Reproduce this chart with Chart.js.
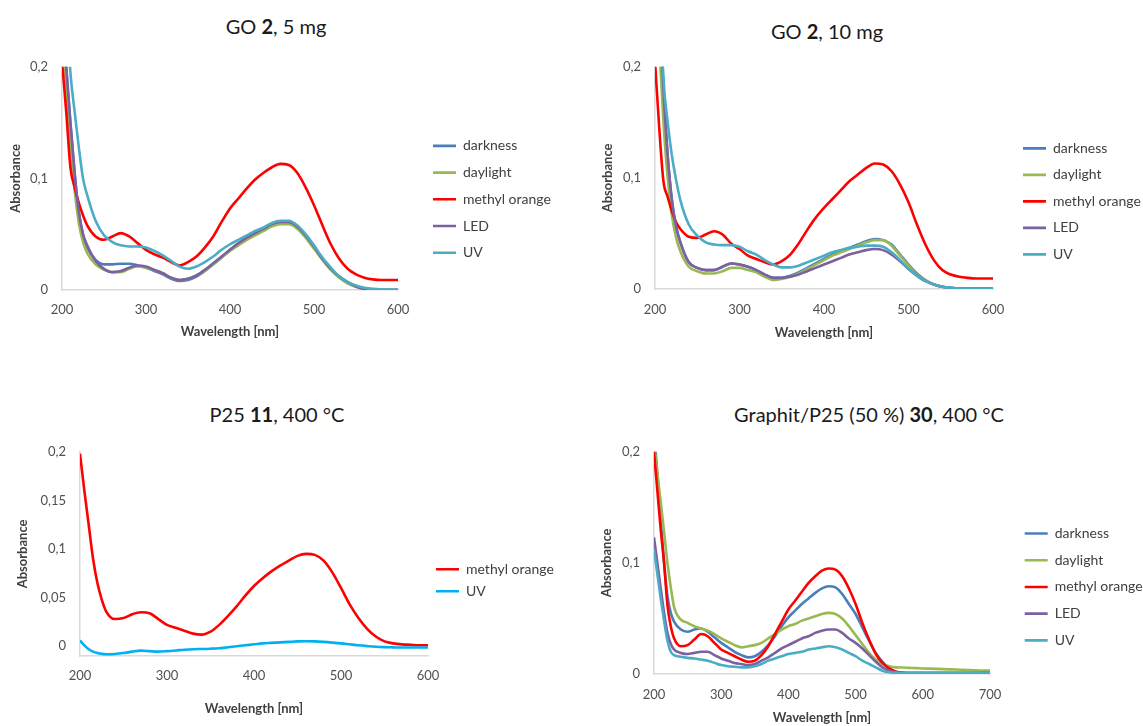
<!DOCTYPE html>
<html lang="en">
<head>
  <meta charset="UTF-8" />
  <title>UV-Vis spectra</title>
  <script src="https://cdn.jsdelivr.net/npm/chart.js"></script>
  <style>
    body { margin: 0; background: #fff; font-family: Lato, sans-serif; }
    #page { position: relative; width: 1143px; height: 726px; overflow: hidden; }
    .panel { position: absolute; }
    .titulo { position: absolute; transform: translate(-50%, -50%); white-space: nowrap;
              font-size: 20px; color: #1a1a1a; }
  </style>
</head>
<body>
<div id="page">
  <div class="titulo" style="left:276px;top:26px">GO <b>2</b>, 5 mg</div>
  <div class="titulo" style="left:827px;top:31px">GO <b>2</b>, 10 mg</div>
  <div class="titulo" style="left:277px;top:414px">P25 <b>11</b>, 400 °C</div>
  <div class="titulo" style="left:869px;top:414px">Graphit/P25 (50 %) <b>30</b>, 400 °C</div>

  <div class="panel" style="left:0;top:45px;width:575px;height:300px"><canvas id="go5"></canvas></div>
  <div class="panel" style="left:575px;top:45px;width:568px;height:300px"><canvas id="go10"></canvas></div>
  <div class="panel" style="left:0;top:430px;width:575px;height:290px"><canvas id="p25"></canvas></div>
  <div class="panel" style="left:575px;top:430px;width:568px;height:296px"><canvas id="gp"></canvas></div>
</div>

<script>
  // wavelengths [nm]
  const wl = [200,205,210,215,220,225,230,
    240,250,260,270,280,290,300,310,320,330,
    340,350,360,370,380,390,400,410,420,430,
    440,450,460,470,480,490,500,510,520,530,
    540,550,560,570,580,590,600];
  const wlWide = [200,205,210,215,220,225,230,
    240,250,260,270,280,290,300,310,320,330,
    340,350,360,370,380,390,400,410,420,430,
    440,450,460,470,480,490,500,510,520,530,
    540,550,560,570,580,590,600,610,620,630,
    640,650,660,670,680,690,700];

  const xTicks = [200, 300, 400, 500, 600];
  const xTicksWide = [200, 300, 400, 500, 600, 700];
  const yTicks = [0, 0.1, 0.2];
  const yTicksP25 = [0, 0.05, 0.1, 0.15, 0.2];
  const seriesNames = ["darkness", "daylight", "methyl orange", "LED", "UV"];

  // GO 2, 5 mg
  const go5Darkness = [0.26,0.20,0.15,0.105,0.070,0.050,0.038,
    0.027,0.023,0.023,0.0235,0.0235,0.022,0.020,0.017,0.014,0.010,
    0.008,0.009,0.012,0.017,0.023,0.029,0.036,0.041,0.046,0.050,
    0.054,0.058,0.061,0.061,0.057,0.049,0.039,0.028,0.019,0.012,
    0.007,0.003,0.001,0.0003,0,0,0];
  const go5Daylight = [0.24,0.18,0.13,0.09,0.060,0.043,0.033,
    0.023,0.018,0.016,0.016,0.019,0.021,0.020,0.018,0.015,0.011,
    0.009,0.010,0.013,0.017,0.023,0.029,0.035,0.040,0.045,0.049,
    0.053,0.057,0.059,0.059,0.055,0.047,0.037,0.027,0.018,0.011,
    0.006,0.003,0.001,0.0005,0,0,0];
  const go5MO = [0.205,0.16,0.11,0.092,0.078,0.067,0.058,
    0.048,0.045,0.048,0.051,0.048,0.042,0.036,0.032,0.029,0.025,
    0.022,0.025,0.030,0.038,0.048,0.061,0.073,0.082,0.091,0.099,
    0.105,0.110,0.113,0.112,0.105,0.092,0.076,0.058,0.041,0.028,
    0.019,0.014,0.011,0.0095,0.009,0.009,0.009];
  const go5LED = [0.26,0.20,0.15,0.105,0.070,0.050,0.040,
    0.026,0.019,0.016,0.017,0.020,0.022,0.021,0.018,0.015,0.011,
    0.009,0.010,0.013,0.018,0.024,0.030,0.036,0.042,0.047,0.051,
    0.055,0.059,0.061,0.061,0.057,0.049,0.039,0.028,0.019,0.012,
    0.007,0.003,0.001,0.0003,0,0,0];
  const go5UV = [0.33,0.26,0.195,0.16,0.128,0.100,0.085,
    0.062,0.049,0.043,0.040,0.039,0.039,0.038,0.035,0.031,0.026,
    0.021,0.019,0.021,0.025,0.030,0.036,0.041,0.045,0.049,0.053,
    0.056,0.060,0.062,0.062,0.058,0.050,0.040,0.029,0.020,0.012,
    0.007,0.004,0.002,0.001,0.0005,0.0003,0.0003];

  // GO 2, 10 mg
  const go10Darkness = [0.35,0.26,0.18,0.12,0.080,0.056,0.042,
    0.024,0.019,0.017,0.017,0.020,0.023,0.022,0.020,0.017,0.013,
    0.010,0.010,0.012,0.015,0.019,0.023,0.027,0.031,0.034,0.037,
    0.040,0.043,0.045,0.044,0.040,0.031,0.022,0.014,0.008,0.004,
    0.002,0.001,0.0003,0.0003,0.0003,0.0003,0.0003];
  const go10Daylight = [0.30,0.22,0.15,0.10,0.066,0.046,0.034,
    0.020,0.016,0.014,0.014,0.016,0.019,0.019,0.017,0.015,0.011,
    0.008,0.009,0.011,0.014,0.018,0.022,0.026,0.030,0.033,0.036,
    0.039,0.042,0.044,0.044,0.039,0.030,0.021,0.013,0.008,0.004,
    0.002,0.001,0.0003,0.0003,0.0003,0.0003,0.0003];
  const go10MO = [0.205,0.145,0.097,0.083,0.070,0.060,0.054,
    0.047,0.046,0.049,0.052,0.049,0.041,0.036,0.030,0.027,0.024,
    0.022,0.025,0.031,0.041,0.053,0.064,0.073,0.081,0.089,0.097,
    0.103,0.109,0.113,0.112,0.106,0.094,0.078,0.058,0.040,0.026,
    0.017,0.013,0.011,0.010,0.0095,0.0095,0.0095];
  const go10LED = [0.35,0.26,0.18,0.12,0.080,0.056,0.042,
    0.024,0.019,0.017,0.017,0.020,0.023,0.022,0.020,0.017,0.013,
    0.010,0.010,0.011,0.013,0.016,0.019,0.022,0.025,0.028,0.031,
    0.033,0.035,0.036,0.035,0.031,0.025,0.018,0.012,0.007,0.004,
    0.002,0.001,0.0003,0.0003,0.0003,0.0003,0.0003];
  const go10UV = [0.40,0.29,0.19,0.15,0.120,0.098,0.080,
    0.058,0.048,0.042,0.040,0.0395,0.0395,0.038,0.034,0.031,0.026,
    0.022,0.0195,0.0195,0.021,0.024,0.027,0.030,0.033,0.035,0.037,
    0.038,0.039,0.039,0.038,0.033,0.026,0.018,0.012,0.007,0.004,
    0.002,0.001,0.0005,0.0003,0.0003,0.0003,0.0003];

  // P25 11, 400 °C
  const p25MO = [0.198,0.16,0.125,0.09,0.065,0.048,0.036,
    0.028,0.029,0.033,0.035,0.034,0.028,0.022,0.019,0.016,0.013,
    0.012,0.015,0.022,0.031,0.041,0.052,0.062,0.070,0.077,0.083,
    0.088,0.093,0.095,0.094,0.088,0.076,0.060,0.043,0.029,0.018,
    0.010,0.005,0.003,0.002,0.0015,0.001,0.001];
  const p25UV = [0.006,0.001,-0.003,-0.0055,-0.007,-0.0078,-0.0082,
    -0.008,-0.007,-0.0055,-0.0045,-0.005,-0.0055,-0.005,-0.0043,-0.0035,-0.003,
    -0.0028,-0.0025,-0.002,-0.001,0,0.001,0.002,0.003,0.0035,0.004,
    0.0045,0.005,0.0052,0.005,0.0045,0.0038,0.003,0.002,0.001,0.0002,
    -0.0005,-0.0009,-0.0011,-0.0013,-0.0013,-0.0013,-0.0013];

  // Graphit/P25 (50 %) 30, 400 °C
  const gpDarkness = [0.22,0.18,0.14,0.10,0.070,0.055,0.047,
    0.040,0.038,0.040,0.041,0.038,0.033,0.028,0.024,0.020,0.017,
    0.015,0.016,0.020,0.026,0.034,0.043,0.051,0.057,0.063,0.068,
    0.073,0.077,0.079,0.078,0.072,0.063,0.054,0.042,0.030,0.019,
    0.011,0.005,0.002,0.001,0.0008,0.0008,0.0008,0.0008,0.0008,0.0008,
    0.0008,0.0008,0.0008,0.0008,0.0008,0.0008,0.0008];
  const gpDaylight = [0.208,0.181,0.155,0.128,0.100,0.078,0.060,
    0.049,0.046,0.043,0.041,0.039,0.036,0.032,0.029,0.026,0.024,
    0.025,0.026,0.028,0.032,0.036,0.040,0.043,0.045,0.048,0.050,
    0.052,0.054,0.055,0.054,0.050,0.043,0.035,0.027,0.019,0.013,
    0.009,0.007,0.006,0.0058,0.0055,0.0053,0.005,0.0048,0.0046,0.0044,
    0.0042,0.004,0.0037,0.0035,0.0033,0.003,0.003];
  const gpMO = [0.200,0.165,0.130,0.100,0.062,0.043,0.032,
    0.025,0.026,0.031,0.036,0.034,0.028,0.022,0.019,0.016,0.013,
    0.011,0.012,0.017,0.025,0.036,0.047,0.058,0.066,0.074,0.082,
    0.088,0.093,0.095,0.094,0.088,0.077,0.063,0.046,0.031,0.018,
    0.010,0.005,0.002,0.001,0.0005,0.0005,0.0005,0.0005,0.0005,0.0005,
    0.0005,0.0005,0.0005,0.0005,0.0005,0.0005,0.0005];
  const gpLED = [0.123,0.100,0.077,0.055,0.037,0.027,0.022,
    0.019,0.018,0.019,0.020,0.020,0.017,0.014,0.012,0.010,0.009,
    0.008,0.009,0.012,0.015,0.019,0.023,0.026,0.029,0.032,0.034,
    0.037,0.039,0.040,0.040,0.037,0.032,0.028,0.023,0.017,0.011,
    0.006,0.003,0.0015,0.001,0.001,0.001,0.001,0.001,0.001,0.001,
    0.001,0.001,0.001,0.001,0.001,0.001,0.001];
  const gpUV = [0.112,0.090,0.068,0.048,0.030,0.020,0.017,
    0.0155,0.0145,0.014,0.013,0.012,0.010,0.008,0.007,0.0065,0.006,
    0.006,0.007,0.009,0.012,0.014,0.016,0.018,0.019,0.020,0.022,
    0.023,0.024,0.025,0.024,0.022,0.019,0.016,0.012,0.009,0.006,
    0.003,0.0015,0.001,0.0008,0.0008,0.0008,0.0008,0.0008,0.0008,0.0008,
    0.0008,0.0008,0.0008,0.0008,0.0008,0.0008,0.0008];

  const colors = ["#4a7ebb", "#98b954", "#ff0000", "#7d60a0", "#4bacc6"];

  Chart.defaults.font.family = "Lato";
  Chart.defaults.color = "#404040";

  const comma = v => String(v).replace(".", ",");
  const meas = document.createElement("canvas").getContext("2d");
  meas.font = "14px Lato";

  function drawPanel(id, p) {
    // Excel draws the last series on top, Chart.js the first: reverse and flip the legend back
    const datasets = p.series.map(s => ({
      label: s.name,
      data: p.wl.map((x, i) => ({ x: x, y: s.values[i] })),
      borderColor: s.color,
      backgroundColor: s.color,
      borderWidth: 2.6,
      pointRadius: 0,
      cubicInterpolationMode: "monotone",
      yAxisID: "y"
    })).reverse();

    // legend box: starts at legendLeft, as wide as its text (legend clips to its box)
    const textW = Math.max(...p.series.map(s => meas.measureText(s.name).width));
    const avail = p.width - p.legendLeft;
    const legendW = Math.min(p.legendPad + 23 + 7 + textW + 10 - 5, avail);
    const pad = Object.assign({}, p.pad, { right: avail - legendW });

    return new Chart(document.getElementById(id), {
      type: "line",
      data: { datasets: datasets },
      options: {
        responsive: true,
        maintainAspectRatio: false,
        animation: false,
        layout: { padding: pad },
        plugins: {
          tooltip: { enabled: false },
          legend: {
            position: "right",
            fullSize: false,
            reverse: true,
            maxWidth: legendW,
            title: { display: true, text: " ", font: { size: 10 }, padding: { top: p.legendShift - 12, bottom: 0 } },
            labels: {
              usePointStyle: true, pointStyle: "line", pointStyleWidth: 23,
              padding: p.legendPad, color: "#404040", font: { size: 14 }
            }
          }
        },
        scales: {
          x: {
            type: "linear", min: p.xTicks[0], max: p.xTicks[p.xTicks.length - 1],
            afterBuildTicks: s => { s.ticks = p.xTicks.map(v => ({ value: v })); },
            afterFit: s => { s.height = p.xH; },
            grid: { display: false, drawTicks: false },
            border: { color: "#d9d9d9", width: 1.5 },
            ticks: { padding: p.xTickPad, color: "#505050", font: { size: 13 } },
            title: { display: true, text: "Wavelength [nm]", color: "#404040",
                     font: { size: 13, weight: "bold" }, padding: { top: 0, bottom: 0 } }
          },
          y: {
            min: p.yMin, max: p.yTicks[p.yTicks.length - 1],
            afterBuildTicks: s => { s.ticks = p.yTicks.map(v => ({ value: v })); },
            afterFit: s => { s.width = p.yW; },
            grid: { display: false, drawTicks: false },
            border: { color: "#d9d9d9", width: 1.5 },
            ticks: { padding: 14, color: "#505050", font: { size: 13 }, callback: comma },
            title: { display: true, text: "Absorbance", color: "#404040",
                     font: { size: 13, weight: "bold" }, padding: { top: 4, bottom: 4 } }
          },
          gap: {
            axis: "y", position: "right", display: true,
            grid: { display: false, drawTicks: false },
            border: { display: false },
            ticks: { display: false },
            afterFit: s => { s.width = p.gap; }
          }
        }
      }
    });
  }

  function fiveSeries(vals) {
    return vals.map((v, i) => ({ name: seriesNames[i], values: v, color: colors[i] }));
  }

  drawPanel("go5", {
    wl: wl, xTicks: xTicks, yTicks: yTicks, yMin: 0,
    series: fiveSeries([go5Darkness, go5Daylight, go5MO, go5LED, go5UV]),
    width: 575, legendLeft: 420.3, pad: { left: 4, top: 12, bottom: 5 },
    yW: 58, xH: 50, xTickPad: 12, gap: 22.3, legendPad: 12.7, legendShift: 41.8
  });

  drawPanel("go10", {
    wl: wl, xTicks: xTicks, yTicks: yTicks, yMin: 0,
    series: fiveSeries([go10Darkness, go10Daylight, go10MO, go10LED, go10UV]),
    width: 568, legendLeft: 435.5, pad: { left: 21, top: 17, bottom: 4 },
    yW: 59, xH: 52, xTickPad: 13, gap: 17.5, legendPad: 12.5, legendShift: 47
  });

  drawPanel("p25", {
    wl: wl, xTicks: xTicks, yTicks: yTicksP25, yMin: -0.01,
    series: [
      { name: "methyl orange", values: p25MO, color: "#ff0000" },
      { name: "UV", values: p25UV, color: "#00b0f0" }
    ],
    width: 575, legendLeft: 428, pad: { left: 11, top: 12, bottom: 3 },
    yW: 69, xH: 61, xTickPad: 12, gap: 0, legendPad: 8, legendShift: 52.6
  });

  drawPanel("gp", {
    wl: wlWide, xTicks: xTicksWide, yTicks: yTicks, yMin: 0,
    series: fiveSeries([gpDarkness, gpDaylight, gpMO, gpLED, gpUV]),
    width: 568, legendLeft: 437, pad: { left: 20, top: 17, bottom: 0 },
    yW: 59, xH: 52, xTickPad: 13, gap: 22, legendPad: 12.7, legendShift: 48.1
  });
</script>
</body>
</html>
